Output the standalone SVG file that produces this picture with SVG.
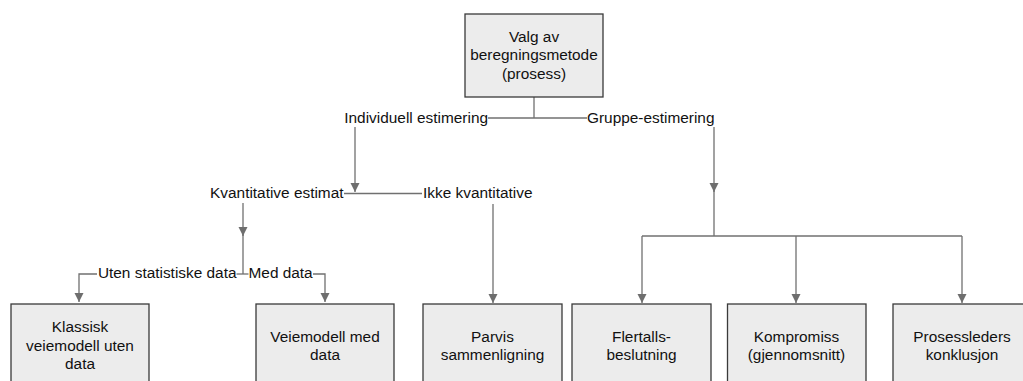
<svg xmlns="http://www.w3.org/2000/svg" width="1023" height="381" viewBox="0 0 1023 381">
<style>
.box{fill:#ececec;stroke:#3a3a3a;stroke-width:1.3}
.t{font-family:"Liberation Sans",Arial,Helvetica,sans-serif;font-size:15.4px;fill:#111}
.c{text-anchor:middle}
.e{text-anchor:end}
.ln{fill:none;stroke:#707070;stroke-width:1.3}
.ar{marker-end:url(#ah)}
</style>
<defs>
<marker id="ah" markerUnits="userSpaceOnUse" markerWidth="10" markerHeight="10" refX="9" refY="4.5" orient="auto">
<path d="M0,0 L9,4.5 L0,9 z" fill="#6e6e6e"/>
</marker>
</defs>
<rect width="1023" height="381" fill="#fff"/>
<g id="connectors">
<polyline class="ln" points="534,97 534,118"/>
<polyline class="ln" points="488,118 587,118"/>
<polyline class="ln ar" points="355,127 355,192"/>
<polyline class="ln" points="344,193.5 422,193.5"/>
<polyline class="ln ar" points="714,127 714,192"/>
<polyline class="ln" points="714,190 714,236"/>
<polyline class="ln" points="642,236 962,236"/>
<polyline class="ln ar" points="642,236 642,303"/>
<polyline class="ln ar" points="796,236 796,303"/>
<polyline class="ln ar" points="962,236 962,303"/>
<polyline class="ln ar" points="493,204 493,303"/>
<polyline class="ln ar" points="243,203 243,236"/>
<polyline class="ln" points="243,234 243,274"/>
<polyline class="ln" points="236.5,274 248.5,274"/>
<polyline class="ln ar" points="97,274 79,274 79,302"/>
<polyline class="ln ar" points="313,274 325,274 325,302"/>
</g>
<g id="labels">
<text class="t e" x="488" y="122.5">Individuell estimering</text>
<text class="t" x="587" y="122.5">Gruppe-estimering</text>
<text class="t e" x="343.5" y="197.5">Kvantitative estimat</text>
<text class="t" x="423" y="197.5">Ikke kvantitative</text>
<text class="t e" x="236.5" y="278">Uten statistiske data</text>
<text class="t" x="248.5" y="278">Med data</text>
</g>
<g id="root">
<rect class="box" x="465" y="14" width="138" height="83"/>
<text class="t c" x="534" y="41.5">Valg av</text>
<text class="t c" x="534" y="60">beregningsmetode</text>
<text class="t c" x="534" y="78.5">(prosess)</text>
</g>
<g id="klassisk">
<rect class="box" x="11" y="304" width="138" height="90"/>
<text class="t c" x="80" y="332">Klassisk</text>
<text class="t c" x="80" y="350.5">veiemodell uten</text>
<text class="t c" x="80" y="369">data</text>
</g>
<g id="veiemodell">
<rect class="box" x="256" y="304" width="138" height="90"/>
<text class="t c" x="325" y="341.5">Veiemodell med</text>
<text class="t c" x="325" y="360">data</text>
</g>
<g id="parvis">
<rect class="box" x="423" y="304" width="139" height="90"/>
<text class="t c" x="492.5" y="341.5">Parvis</text>
<text class="t c" x="492.5" y="360">sammenligning</text>
</g>
<g id="flertall">
<rect class="box" x="572" y="304" width="139" height="90"/>
<text class="t c" x="641.5" y="341.5">Flertalls-</text>
<text class="t c" x="641.5" y="360">beslutning</text>
</g>
<g id="kompromiss">
<rect class="box" x="727.5" y="304" width="138.5" height="90"/>
<text class="t c" x="796.5" y="341.5">Kompromiss</text>
<text class="t c" x="796.5" y="360">(gjennomsnitt)</text>
</g>
<g id="prosessleder">
<rect class="box" x="893" y="304" width="139" height="90"/>
<text class="t c" x="962" y="341.5">Prosessleders</text>
<text class="t c" x="962" y="360">konklusjon</text>
</g>
</svg>
